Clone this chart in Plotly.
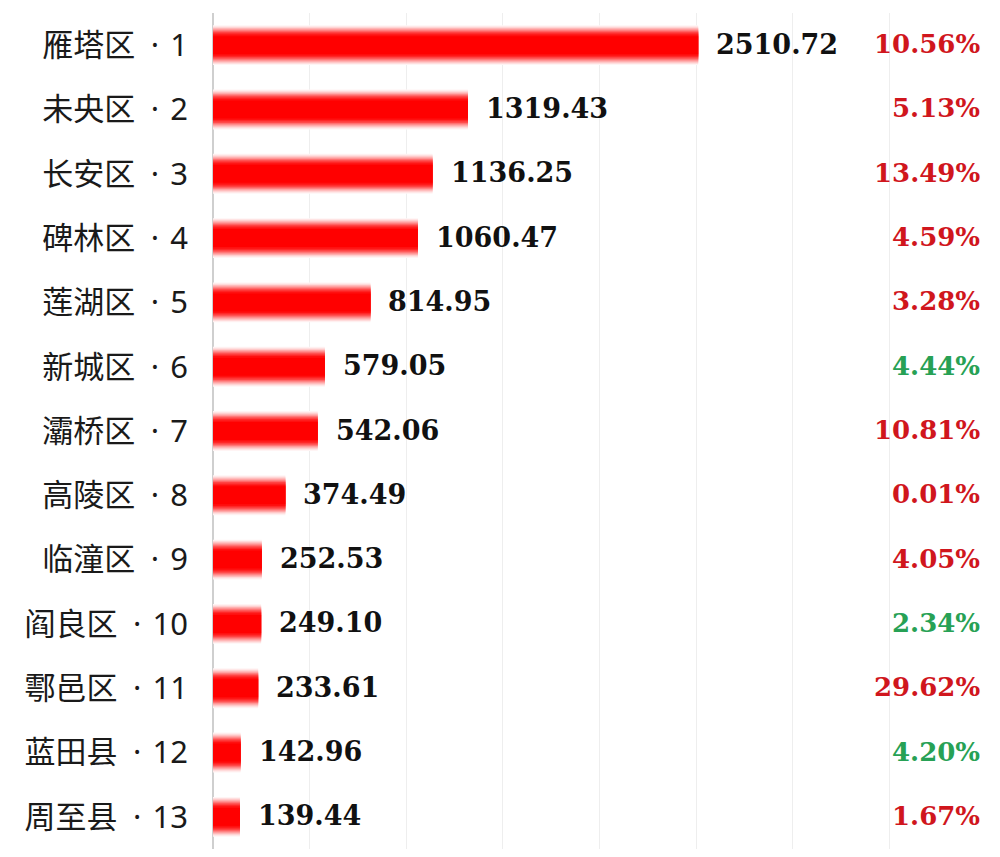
import plotly.graph_objects as go

# 西安各区县数据
districts = ["雁塔区", "未央区", "长安区", "碑林区", "莲湖区", "新城区", "灞桥区",
             "高陵区", "临潼区", "阎良区", "鄠邑区", "蓝田县", "周至县"]
values = [2510.72, 1319.43, 1136.25, 1060.47, 814.95, 579.05, 542.06,
          374.49, 252.53, 249.10, 233.61, 142.96, 139.44]
growth = [10.56, 5.13, 13.49, 4.59, 3.28, 4.44, 10.81,
          0.01, 4.05, 2.34, 29.62, 4.20, 1.67]
trend = ["red", "red", "red", "red", "red", "green", "red",
         "red", "red", "green", "red", "green", "red"]

labels = [f"{name}\u2002·\u200a {i + 1}" for i, name in enumerate(districts)]
trend_colors = {"red": "#d0161d", "green": "#27a155"}

# layered bars to fake the soft cylinder gradient
layers = [
    (0.62, "#fff4f4"),
    (0.59, "#ffe4e4"),
    (0.56, "#ffcfcf"),
    (0.53, "#ffb6b6"),
    (0.50, "#ff9c9c"),
    (0.47, "#ff8080"),
    (0.44, "#ff6262"),
    (0.41, "#ff4444"),
    (0.37, "#ff2828"),
    (0.33, "#ff1010"),
    (0.28, "#ff0000"),
]

fig = go.Figure()
for width, color in layers:
    fig.add_trace(go.Bar(
        x=values, y=labels, orientation="h",
        width=width, marker=dict(color=color, line=dict(width=0)),
        hoverinfo="skip", showlegend=False,
    ))

annotations = []
for lab, v in zip(labels, values):
    annotations.append(dict(
        x=v, y=lab, xref="x", yref="y", text=f"{v:.2f}",
        xanchor="left", yanchor="middle", xshift=16, yshift=1, showarrow=False,
        font=dict(family="DejaVu Serif", size=27, color="#111111", weight="bold"),
    ))
for lab, g, t in zip(labels, growth, trend):
    annotations.append(dict(
        x=1, y=lab, xref="paper", yref="y", text=f"{g:.2f}%",
        xanchor="right", yanchor="middle", xshift=-4, yshift=1, showarrow=False,
        font=dict(family="DejaVu Serif", size=26, color=trend_colors[t], weight="bold"),
    ))

# page body adds 8px offset, so the figure is a bit smaller than the window
fig.update_layout(
    width=992, height=849,
    margin=dict(l=205, r=14, t=5, b=8),
    barmode="overlay",
    paper_bgcolor="white", plot_bgcolor="white",
    annotations=annotations,
)
fig.update_xaxes(
    range=[0, 4000], dtick=500, showticklabels=False,
    showgrid=True, gridcolor="#eeeeee", gridwidth=1,
    zeroline=True, zerolinecolor="#cfcfcf", zerolinewidth=1.5,
    fixedrange=True,
)
fig.update_yaxes(
    categoryorder="array", categoryarray=labels, autorange="reversed",
    tickfont=dict(family="Noto Sans, Noto Sans CJK SC", size=31, color="#1a1a1a"),
    ticks="", ticklabelstandoff=24, showgrid=False, fixedrange=True,
)

fig.write_html("out.html")
